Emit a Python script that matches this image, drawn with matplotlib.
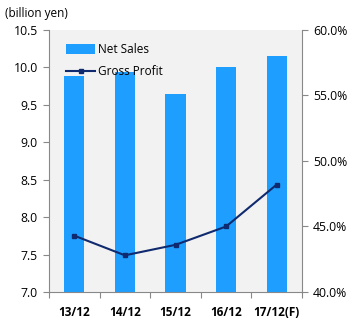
import matplotlib
matplotlib.use("Agg")
import matplotlib.pyplot as plt
import numpy as np
from matplotlib.ticker import FixedLocator, NullFormatter

categories = ["13/12", "14/12", "15/12", "16/12", "17/12(F)"]
net_sales = [9.88, 9.94, 9.645, 10.005, 10.15]
gross_profit = [44.3, 42.8, 43.6, 45.0, 48.2]
left_ticks = [7.0, 7.5, 8.0, 8.5, 9.0, 9.5, 10.0, 10.5]
right_ticks = [40.0, 45.0, 50.0, 55.0, 60.0]

plt.rcParams['font.family'] = ['Open Sans', 'DejaVu Sans']
fig = plt.figure(figsize=(3.55, 3.24), dpi=100)
ax = fig.add_axes([49/355, 1-292/324, (302-49)/355, (292-30)/324])
ax.set_facecolor("#F2F2F2")
x = np.arange(len(categories))
bars = ax.bar(x, net_sales, width=0.4, color="#1E9FFF", label="Net Sales", zorder=2)
ax.set_ylim(7.0, 10.5)
ax.set_xlim(-0.5, len(categories)-0.5)
ax.set_yticks(left_ticks)
ax.set_yticklabels([f"{t:.1f}" for t in left_ticks], fontsize=8.8)
ax.xaxis.set_major_locator(FixedLocator(np.arange(-0.5, len(categories), 1.0)))
ax.xaxis.set_major_formatter(NullFormatter())
ax.set_xticks(x, minor=True)
ax.set_xticklabels(categories, minor=True, fontsize=8.5, fontweight="bold")
ax.tick_params(axis="x", which="minor", length=0, pad=10)
ax.tick_params(axis="x", which="major", length=4, color="#888888")
ax.tick_params(axis="y", length=4, color="#888888", pad=4)
for s in ["top", "right"]:
    ax.spines[s].set_visible(False)
for s in ["left", "bottom"]:
    ax.spines[s].set_color("#888888")

ax2 = ax.twinx()
line, = ax2.plot(x, gross_profit, color="#0F2A6E", marker="s", markersize=3.5, linewidth=1.5, label="Gross Profit", zorder=3)
ax2.set_ylim(40, 60)
ax2.set_yticks(right_ticks)
ax2.set_yticklabels([f"{t:.1f}%" for t in right_ticks], fontsize=8.8)
ax2.tick_params(axis="y", length=4, color="#888888", pad=4)
for s in ["top", "left", "bottom"]:
    ax2.spines[s].set_visible(False)
ax2.spines["right"].set_color("#888888")

leg = ax2.legend([bars, line], ["Net Sales", "Gross Profit"], loc="upper left",
                 bbox_to_anchor=(0.025, 0.99), frameon=False, fontsize=8.5,
                 handlelength=2.5, handleheight=0.9, handletextpad=0.25, labelspacing=0.75)

fig.text(5/355, 1-13/324, "(billion yen)", fontsize=8.5, va="center", ha="left")
fig.savefig("out.png", dpi=100)
